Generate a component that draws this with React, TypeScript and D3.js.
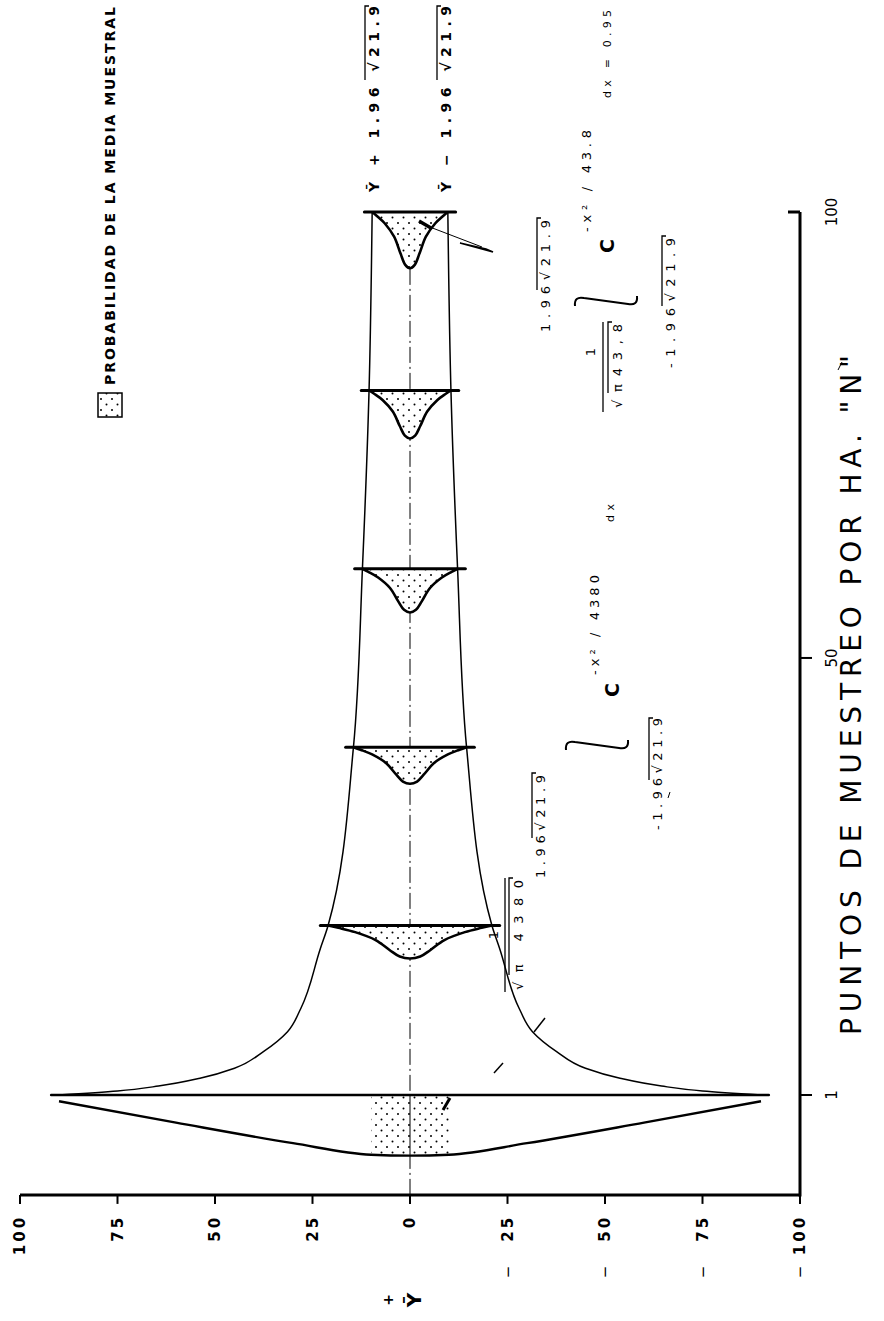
import * as d3 from "d3";

const W = 884;
const H = 1321;

// value axis (Ȳ) and sample-size axis (N)
const Y_TICKS = [100, 75, 50, 25, 0, -25, -50, -75, -100];
const N_TICKS = [1, 50, 100];
const N_MIN = -10.2; // where the N axis meets the value axis

// envelope Ȳ ± 1.96·s/√N (N, half width)
const ENV_N = [1, 1.45, 2, 2.9, 4, 5.9, 8.1, 10.7, 17.4, 20, 40, 60, 80, 100];
const ENV_HALF = [90, 75, 64.5, 53.6, 45, 37.5, 31.4, 28, 23, 21, 14.5, 12.2, 10.5, 9.7];

// sampling distributions drawn at some N (depth in N units)
const DIST_N = [100, 80, 60, 40, 20];
const DIST_DEPTH = [6.3, 5.4, 4.9, 4.1, 3.7];
// shape of those curves: relative offset -> relative depth
const PROFILE_U = [0, 0.125, 0.25, 0.42, 0.67, 0.875, 1];
const PROFILE_D = [1, 0.94, 0.74, 0.44, 0.2, 0.07, 0];

// very flat distribution for N = 1
const BELL1_Y = [90, 60, 30, 10, 0];
const BELL1_DEPTH = [0.7, 3.1, 5.4, 6.7, 6.8];

const FONT = "DejaVu Sans";

type TProps = {
  x: number;
  y: number;
  children: any;
  size?: number;
  anchor?: string;
  weight?: number;
  len?: number;
};

// text turned a quarter to the left, reading bottom to top
const VText = ({ x, y, children, size = 14, anchor = "start", weight = 400, len }: TProps) => (
  <text
    transform={`translate(${x},${y}) rotate(-90)`}
    fontSize={size}
    textAnchor={anchor}
    dominantBaseline="central"
    fontWeight={weight}
    fontFamily={FONT}
    textLength={len}
    lengthAdjust={len ? "spacing" : undefined}
    fill="#000"
  >
    {children}
  </text>
);

// sideways integral sign
const integral = (cx: number, cy: number, len: number) => {
  const a = cx - len / 2;
  const b = cx + len / 2;
  return `M${a},${cy + 5} Q${a - 1},${cy - 5} ${a + 9},${cy - 3} L${b - 9},${cy + 3} Q${b + 1},${cy + 5} ${b},${cy - 5}`;
};

// overline of a root sign, vertical because the text is turned
const RootBar = ({ x, y1, y2 }: { x: number; y1: number; y2: number }) => (
  <path d={`M${x},${y1} L${x},${y2} L${x + 4},${y2}`} stroke="#000" strokeWidth={1.3} fill="none" />
);

export default function App() {
  const yS = d3.scaleLinear().domain([100, -100]).range([20, 800]);
  const nS = d3.scaleLinear().domain([1, 100]).range([1095, 212]);

  const axisY = nS(N_MIN);
  const axisX = yS(-100);

  const envPts = ENV_N.map((n, i) => [n, ENV_HALF[i]]);
  const envLine = d3
    .line<number[]>()
    .x((d) => yS(d[1]))
    .y((d) => nS(d[0]))
    .curve(d3.curveMonotoneY);
  const envUpper = envLine(envPts) || "";
  const envLower = envLine(envPts.map(([n, h]) => [n, -h])) || "";

  const distLine = d3
    .line<number[]>()
    .x((d) => yS(d[0]))
    .y((d) => nS(d[1]))
    .curve(d3.curveCatmullRom.alpha(0.5));

  const dists = DIST_N.map((n, i) => {
    const half = ENV_HALF[ENV_N.indexOf(n)];
    const side = PROFILE_U.map((u, k) => [u, PROFILE_D[k]]);
    const pts = [
      ...side
        .slice()
        .reverse()
        .map(([u, d]) => [u * half, n - d * DIST_DEPTH[i]]),
      ...side.slice(1).map(([u, d]) => [-u * half, n - d * DIST_DEPTH[i]]),
    ];
    return { n, half, d: distLine(pts) || "" };
  });

  const bellLine = d3
    .line<number[]>()
    .x((d) => yS(d[0]))
    .y((d) => nS(1 - d[1]))
    .curve(d3.curveMonotoneX);
  const bellPts = [
    ...BELL1_Y.map((v, k) => [v, BELL1_DEPTH[k]]),
    ...BELL1_Y.slice(0, -1)
      .map((v, k) => [-v, BELL1_DEPTH[k]])
      .reverse(),
  ];
  const bell = bellLine(bellPts) || "";
  const rectDepth = BELL1_DEPTH[BELL1_Y.indexOf(10)];

  return (
    <svg
      width={W}
      height={H}
      style={{ position: "absolute", left: 0, top: 0, background: "#fff" }}
    >
      <defs>
        <pattern id="dots" width={11} height={11} patternUnits="userSpaceOnUse">
          <rect width={11} height={11} fill="#fff" />
          <circle cx={2} cy={3} r={1} fill="#000" />
          <circle cx={7.5} cy={8.5} r={1} fill="#000" />
        </pattern>
      </defs>

      {/* centre line Ȳ */}
      <line
        x1={yS(0)}
        x2={yS(0)}
        y1={axisY}
        y2={nS(100)}
        stroke="#000"
        strokeWidth={1}
        strokeDasharray="16 4 2 4"
      />

      {/* confidence envelope */}
      <path d={envUpper} fill="none" stroke="#000" strokeWidth={1.5} />
      <path d={envLower} fill="none" stroke="#000" strokeWidth={1.5} />

      {/* distributions of the mean */}
      {dists.map((s) => (
        <g key={s.n}>
          <path d={s.d + "Z"} fill="url(#dots)" stroke="none" />
          <path d={s.d} fill="none" stroke="#000" strokeWidth={2.6} strokeLinejoin="round" />
          <line
            x1={yS(s.half + 2)}
            x2={yS(-s.half - 2)}
            y1={nS(s.n)}
            y2={nS(s.n)}
            stroke="#000"
            strokeWidth={3}
            strokeLinecap="round"
          />
        </g>
      ))}

      {/* N = 1 */}
      <rect
        x={yS(10)}
        y={nS(1)}
        width={yS(-10) - yS(10)}
        height={nS(1 - rectDepth) - nS(1)}
        fill="url(#dots)"
      />
      <line x1={yS(0)} x2={yS(0)} y1={nS(1)} y2={nS(1 - rectDepth)} stroke="#000" strokeWidth={1} />
      <path d={bell} fill="none" stroke="#000" strokeWidth={2.4} />
      <line x1={yS(92)} x2={yS(-92)} y1={nS(1)} y2={nS(1)} stroke="#000" strokeWidth={2.6} strokeLinecap="round" />

      {/* stray pencil marks */}
      <line x1={422} y1={224} x2={482} y2={247} stroke="#000" strokeWidth={1} />
      <line x1={419} y1={221} x2={431} y2={228} stroke="#000" strokeWidth={3.5} />
      <path d="M460,243 L493,252 L486,249 Z" stroke="#000" strokeWidth={1.6} fill="none" />
      <line x1={534} y1={1032} x2={545} y2={1018} stroke="#000" strokeWidth={1.5} />
      <line x1={494} y1={1073} x2={503} y2={1063} stroke="#000" strokeWidth={1.5} />
      <line x1={443} y1={1110} x2={450} y2={1098} stroke="#000" strokeWidth={3} />
      <line x1={838} y1={370} x2={842} y2={362} stroke="#000" strokeWidth={1} />

      {/* value axis */}
      <line x1={yS(100)} x2={axisX} y1={axisY} y2={axisY} stroke="#000" strokeWidth={3} />
      {Y_TICKS.map((v) => (
        <g key={v}>
          <line x1={yS(v)} x2={yS(v)} y1={axisY} y2={axisY + 9} stroke="#000" strokeWidth={2} />
          <VText x={yS(v)} y={axisY + 20} anchor="end" size={15} weight={700}>
            <tspan letterSpacing={3}>{String(Math.abs(v))}</tspan>
          </VText>
          {v < 0 && (
            <VText x={yS(v)} y={axisY + 77} anchor="middle" size={15}>
              −
            </VText>
          )}
        </g>
      ))}
      <VText x={388} y={1300} anchor="middle" size={14} weight={700}>
        +
      </VText>
      <VText x={414} y={1300} anchor="middle" size={20} weight={700}>
        Ȳ
      </VText>

      {/* N axis */}
      <line x1={axisX} x2={axisX} y1={axisY + 1.5} y2={nS(100)} stroke="#000" strokeWidth={3} />
      <line x1={axisX - 12} x2={axisX} y1={nS(100)} y2={nS(100)} stroke="#000" strokeWidth={3} />
      {N_TICKS.map((t) => (
        <g key={t}>
          {t !== 100 && (
            <line x1={axisX} x2={axisX + 12} y1={nS(t)} y2={nS(t)} stroke="#000" strokeWidth={2} />
          )}
          <VText x={axisX + 32} y={nS(t)} anchor="middle" size={15}>
            {String(t)}
          </VText>
        </g>
      ))}
      <VText x={851} y={695} anchor="middle" size={28} len={680}>
        PUNTOS DE MUESTREO POR HA. "N"
      </VText>

      {/* legend */}
      <rect x={98} y={393} width={24} height={24} fill="url(#dots)" stroke="#000" strokeWidth={1.5} />
      <VText x={110} y={385} size={14} weight={700} len={378}>
        PROBABILIDAD DE LA MEDIA MUESTRAL
      </VText>

      {/* limits of the interval */}
      <VText x={374} y={192} size={14} weight={700} len={186}>
        Ȳ + 1.96 √21.9
      </VText>
      <RootBar x={365} y1={80} y2={6} />
      <VText x={446} y={192} size={14} weight={700} len={186}>
        Ȳ − 1.96 √21.9
      </VText>
      <RootBar x={437} y1={80} y2={6} />

      {/* integral for N = 100 */}
      <VText x={545} y={332} size={13} len={112}>
        1.96√21.9
      </VText>
      <RootBar x={537} y1={290} y2={218} />
      <path d={integral(606, 301, 62)} fill="none" stroke="#000" strokeWidth={2} />
      <VText x={590} y={352} anchor="middle" size={13}>
        1
      </VText>
      <line x1={603} x2={603} y1={412} y2={322} stroke="#000" strokeWidth={1.3} />
      <VText x={617} y={408} size={13} len={84}>
        √π43,8
      </VText>
      <RootBar x={608} y1={393} y2={322} />
      <VText x={607} y={246} anchor="middle" size={19} weight={700}>
        C
      </VText>
      <VText x={586} y={232} size={13} len={102}>
        -x² / 43.8
      </VText>
      <VText x={607} y={98} size={11} len={88}>
        dx = 0.95
      </VText>
      <VText x={670} y={368} size={13} len={130}>
        -1.96√21.9
      </VText>
      <RootBar x={662} y1={306} y2={236} />

      {/* integral for N = 1 */}
      <VText x={493} y={935} anchor="middle" size={13}>
        1
      </VText>
      <line x1={505} x2={505} y1={992} y2={878} stroke="#000" strokeWidth={1.3} />
      <VText x={518} y={990} size={13} len={110}>
        √π 4380
      </VText>
      <RootBar x={509} y1={975} y2={878} />
      <VText x={540} y={878} size={13} len={103}>
        1.96√21.9
      </VText>
      <RootBar x={532} y1={838} y2={773} />
      <path d={integral(597, 745, 62)} fill="none" stroke="#000" strokeWidth={2} />
      <VText x={612} y={690} anchor="middle" size={19} weight={700}>
        C
      </VText>
      <VText x={594} y={675} size={13} len={100}>
        -x² / 4380
      </VText>
      <VText x={610} y={522} size={11} len={18}>
        dx
      </VText>
      <VText x={657} y={830} size={13} len={112}>
        -1.96√21.9
      </VText>
      <RootBar x={649} y1={780} y2={718} />
      <line x1={668} x2={670} y1={798} y2={792} stroke="#000" strokeWidth={1} />
    </svg>
  );
}
